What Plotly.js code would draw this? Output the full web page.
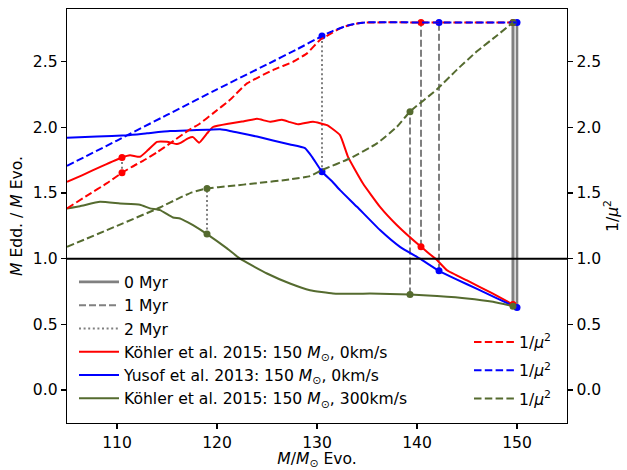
<!DOCTYPE html>
<html>
<head>
<meta charset="utf-8">
<script src="https://cdn.plot.ly/plotly-3.0.1.min.js"></script>
<style>html,body{margin:0;padding:0;background:#fff;}#chart{width:627px;height:470px;}</style>
</head>
<body>
<div id="chart"></div>
<script>
// ---------- data ----------
// Köhler et al. 2015, 150 Msun, 0 km/s : M_Edd / M_Evo
const kohler0_mass = [105, 106.5, 108.5, 110.5, 111.3, 112.3, 113.1, 114, 115, 116, 116.3, 117.1, 117.6, 118.2, 119, 119.6, 121.3, 122.5, 124, 125.3, 126.5, 127.3, 128.1, 129.6, 131, 132.3, 133.1, 134.6, 136.3, 138, 140.4, 142, 143, 145, 147.5, 149.6];
const kohler0_edd  = [1.585, 1.635, 1.705, 1.771, 1.788, 1.776, 1.827, 1.89, 1.89, 1.873, 1.88, 1.916, 1.926, 1.883, 1.954, 2.003, 2.03, 2.045, 2.065, 2.043, 2.058, 2.04, 2.024, 2.043, 2.017, 1.941, 1.776, 1.573, 1.395, 1.255, 1.09, 0.989, 0.912, 0.834, 0.737, 0.65];
// Köhler et al. 2015, 150 Msun, 0 km/s : 1/mu^2
const kohler0_mu_mass = [105, 107, 109, 110.5, 111.5, 112.6, 114, 115.3, 117.1, 118.3, 119.6, 121.3, 123, 125.6, 127.6, 129, 130.3, 131.5, 132.3, 133.3, 134.5, 136, 140, 145, 149.6];
const kohler0_mu      = [1.383, 1.48, 1.575, 1.654, 1.70, 1.745, 1.81, 1.878, 1.975, 2.03, 2.107, 2.21, 2.335, 2.437, 2.50, 2.564, 2.666, 2.72, 2.755, 2.78, 2.797, 2.80, 2.80, 2.80, 2.80];

// Yusof et al. 2013, 150 Msun, 0 km/s : M_Edd / M_Evo
const yusof_mass = [105, 108, 111, 113, 115.3, 117, 119, 120.3, 121.2, 122.3, 124, 125.6, 127.3, 128.8, 129.5, 130.5, 131.5, 132.3, 134, 136.3, 138.3, 140.3, 142.2, 144, 146, 148, 150];
const yusof_edd  = [1.921, 1.93, 1.94, 1.955, 1.972, 1.977, 1.982, 1.985, 1.975, 1.957, 1.93, 1.9, 1.87, 1.842, 1.776, 1.662, 1.59, 1.522, 1.395, 1.218, 1.09, 1.0, 0.907, 0.84, 0.77, 0.697, 0.628];
// Yusof et al. 2013 : 1/mu^2
const yusof_mu_mass = [105, 110, 115, 120, 125, 128, 130.5, 131.6, 133, 134, 135, 140, 145, 150];
const yusof_mu      = [1.707, 1.90, 2.095, 2.29, 2.48, 2.595, 2.696, 2.735, 2.775, 2.792, 2.80, 2.80, 2.80, 2.80];

// Köhler et al. 2015, 150 Msun, 300 km/s : M_Edd / M_Evo
const kohler300_mass = [105, 106.3, 108.3, 110.3, 112.3, 113.3, 114.3, 115.6, 116.3, 117.1, 117.6, 119, 121, 122.3, 125, 127.3, 129.3, 131.6, 133.3, 135.3, 139.3, 142, 145, 147.6, 149.6];
const kohler300_edd  = [1.383, 1.40, 1.433, 1.42, 1.41, 1.383, 1.37, 1.314, 1.306, 1.276, 1.255, 1.187, 1.078, 1.0, 0.887, 0.811, 0.76, 0.735, 0.732, 0.735, 0.727, 0.715, 0.697, 0.671, 0.638];
// Köhler et al. 2015, 300 km/s : 1/mu^2
const kohler300_mu_mass = [105, 110, 114.3, 116.3, 117.5, 119, 121.3, 124, 127.3, 129.3, 130.5, 133.3, 136, 138, 139.3, 142, 144, 146, 148, 149.6];
const kohler300_mu      = [1.09, 1.25, 1.39, 1.465, 1.505, 1.535, 1.553, 1.575, 1.604, 1.629, 1.675, 1.764, 1.878, 2.005, 2.12, 2.29, 2.44, 2.58, 2.70, 2.80];

// Masses reached at ages 0, 1, 2 Myr and the curve values there
const ages = ['0 Myr', '1 Myr', '2 Myr'];
const kohler0_age_mass = [149.6, 140.4, 110.5];
const kohler0_age_edd  = [0.65, 1.09, 1.771];
const kohler0_age_mu   = [2.80, 2.80, 1.654];
const yusof_age_mass   = [150.0, 142.2, 130.5];
const yusof_age_edd    = [0.628, 0.907, 1.662];
const yusof_age_mu     = [2.80, 2.80, 2.696];
const kohler300_age_mass = [149.6, 139.3, 119.0];
const kohler300_age_edd  = [0.638, 0.727, 1.187];
const kohler300_age_mu   = [2.80, 2.12, 1.535];

const seriesNames = ['Köhler et al. 2015: 150 <i>M</i><sub>⊙</sub>, 0km/s',
                     'Yusof et al. 2013: 150 <i>M</i><sub>⊙</sub>, 0km/s',
                     'Köhler et al. 2015: 150 <i>M</i><sub>⊙</sub>, 300km/s'];
const muName = '1/<i>μ</i><sup>2</sup>';

// ---------- styling ----------
const RED = '#ff0000', BLUE = '#0000ff', GREEN = '#556b2f', GRAY = '#808080';
const DASH = '7.5px,3.3px';
const ageDash = ['solid', '7px,3px', '2px,2.6px'];
const ageWidth = [2.6, 2, 2];
const FONT = 'DejaVu Sans, sans-serif';
const FS = 15.6;

const models = [
  {m: kohler0_age_mass, e: kohler0_age_edd, u: kohler0_age_mu, c: RED},
  {m: yusof_age_mass, e: yusof_age_edd, u: yusof_age_mu, c: BLUE},
  {m: kohler300_age_mass, e: kohler300_age_edd, u: kohler300_age_mu, c: GREEN}
];

const traces = [];
// vertical age lines (one trace per age, all models), these give the age legend entries
ages.forEach((a, i) => {
  const xs = [], ys = [];
  models.forEach(md => { xs.push(md.m[i], md.m[i], null); ys.push(md.e[i], md.u[i], null); });
  traces.push({x: xs, y: ys, type: 'scatter', mode: 'lines', name: a, legend: 'legend',
    line: {color: GRAY, width: ageWidth[i], dash: ageDash[i]}, hoverinfo: 'skip'});
});
// Eddington curves
[[kohler0_mass, kohler0_edd, RED], [yusof_mass, yusof_edd, BLUE], [kohler300_mass, kohler300_edd, GREEN]]
  .forEach((s, i) => traces.push({x: s[0], y: s[1], type: 'scatter', mode: 'lines', name: seriesNames[i],
    legend: 'legend', line: {color: s[2], width: 2, shape: 'spline', smoothing: 0.4}}));
// 1/mu^2 curves on the right axis
[[kohler0_mu_mass, kohler0_mu, RED], [yusof_mu_mass, yusof_mu, BLUE], [kohler300_mu_mass, kohler300_mu, GREEN]]
  .forEach((s, i) => traces.push({x: s[0], y: s[1], type: 'scatter', mode: 'lines', name: muName, yaxis: 'y2',
    legend: 'legend2', legendgroup: 'mu' + i,
    line: {color: s[2], width: 2, dash: DASH, shape: 'spline', smoothing: 0.4}}));
// age markers
models.forEach(md => {
  traces.push({x: md.m.concat(md.m), y: md.e.concat(md.u), type: 'scatter', mode: 'markers',
    showlegend: false, marker: {color: md.c, size: 7}, hoverinfo: 'skip'});
});

const YR = [-0.252, 2.902];
const tickFont = {family: FONT, size: FS, color: '#000'};
const axisCommon = {showline: true, linecolor: '#000', linewidth: 1.3, ticks: 'outside', ticklen: 5,
  tickwidth: 1.2, tickcolor: '#000', showgrid: false, zeroline: false, tickfont: tickFont};

const layout = {
  width: 627, height: 470,
  margin: {l: 67, r: 60, t: 9, b: 47},
  paper_bgcolor: '#fff', plot_bgcolor: '#fff',
  font: {family: FONT, size: FS, color: '#000'},
  showlegend: true,
  xaxis: Object.assign({}, axisCommon, {range: [105, 155], tickvals: [110, 120, 130, 140, 150], mirror: true,
    title: {text: '<i>M</i>/<i>M</i><sub>⊙</sub> Evo.', font: {family: FONT, size: FS}, standoff: 3}}),
  yaxis: Object.assign({}, axisCommon, {range: YR, tick0: 0, dtick: 0.5, tickformat: '.1f', mirror: true,
    title: {text: '<i>M</i> Edd. / <i>M</i> Evo.', font: {family: FONT, size: FS}, standoff: 6}}),
  yaxis2: Object.assign({}, axisCommon, {range: YR, tick0: 0, dtick: 0.5, tickformat: '.1f', overlaying: 'y', side: 'right',
    title: {text: muName, font: {family: FONT, size: FS}, standoff: 4}}),
  shapes: [{type: 'line', xref: 'paper', x0: 0, x1: 1, yref: 'y', y0: 1, y1: 1, line: {color: '#000', width: 2}}],
  legend: {x: 0.014, y: 0.381, xanchor: 'left', yanchor: 'top', bgcolor: 'rgba(0,0,0,0)', borderwidth: 0,
    font: {family: FONT, size: FS}, traceorder: 'normal', itemwidth: 40},
  legend2: {x: 0.804, y: 0.236, xanchor: 'left', yanchor: 'top', bgcolor: 'rgba(0,0,0,0)', borderwidth: 0,
    font: {family: FONT, size: FS}, traceorder: 'grouped', tracegroupgap: 5, itemwidth: 40}
};

Plotly.newPlot('chart', traces, layout, {displayModeBar: false, staticPlot: true});
</script>
</body>
</html>
